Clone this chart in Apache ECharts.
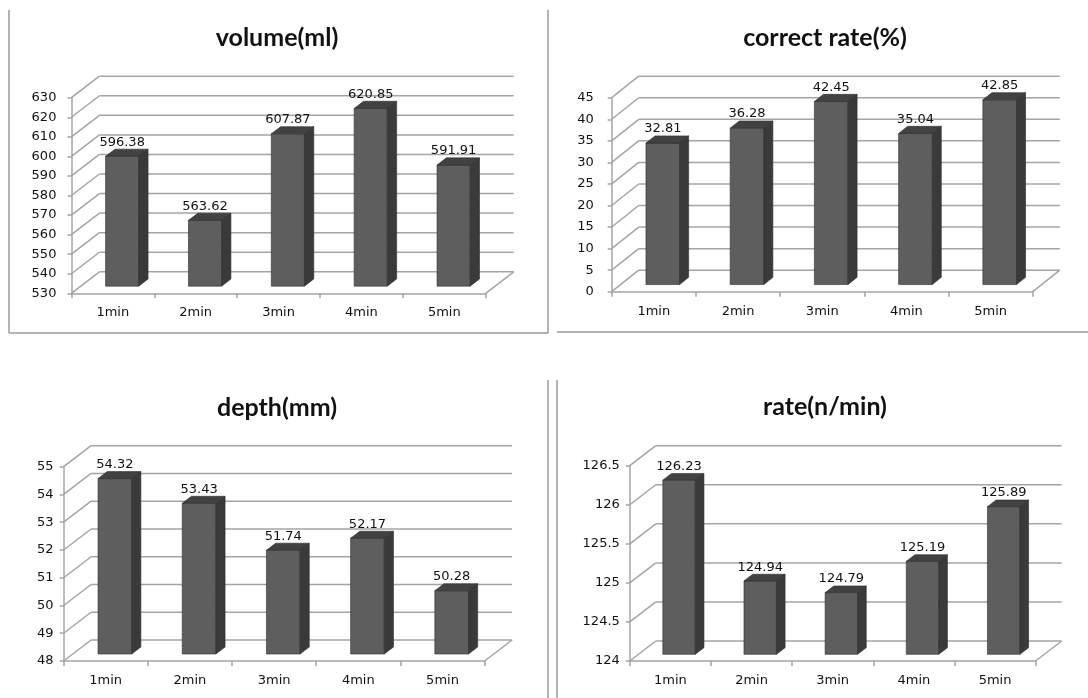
<!DOCTYPE html>
<html>
<head>
<meta charset="utf-8">
<title>CPR quality by minute</title>
<script src="https://cdn.jsdelivr.net/npm/echarts@6/dist/echarts.min.js"></script>
<style>
  html, body { margin: 0; padding: 0; background: #ffffff; }
  #chart { width: 1088px; height: 698px; }
</style>
</head>
<body>
<div id="chart"></div>
<script>
// ---- data ----
const categories = ['1min', '2min', '3min', '4min', '5min'];

const volumeValues = [596.38, 563.62, 607.87, 620.85, 591.91];
const volumeTicks = [530, 540, 550, 560, 570, 580, 590, 600, 610, 620, 630];

const correctRateValues = [32.81, 36.28, 42.45, 35.04, 42.85];
const correctRateTicks = [0, 5, 10, 15, 20, 25, 30, 35, 40, 45];

const depthValues = [54.32, 53.43, 51.74, 52.17, 50.28];
const depthTicks = [48, 49, 50, 51, 52, 53, 54, 55];

const rateValues = [126.23, 124.94, 124.79, 125.19, 125.89];
const rateTicks = [124, 124.5, 125, 125.5, 126, 126.5];

const titles = ['volume(ml)', 'correct rate(%)', 'depth(mm)', 'rate(n/min)'];

// ---- layout: one pseudo-3D column panel per quadrant ----
const panels = [
  { title: titles[0], values: volumeValues, ticks: volumeTicks,
    grid: { left: 71.4, top: 97.7, width: 414.3, height: 195.6 },
    depth: [28, -21.5], titleAt: [277, 38], yMargin: 15 },
  { title: titles[1], values: correctRateValues, ticks: correctRateTicks,
    grid: { left: 611.7, top: 97.7, width: 421.1, height: 194 },
    depth: [27, -21.5], titleAt: [825, 38], yMargin: 18 },
  { title: titles[2], values: depthValues, ticks: depthTicks,
    grid: { left: 63.6, top: 466.7, width: 421, height: 194.3 },
    depth: [27.5, -21], titleAt: [277, 408], yMargin: 10 },
  { title: titles[3], values: rateValues, ticks: rateTicks,
    grid: { left: 629.8, top: 465.7, width: 405.8, height: 195.3 },
    depth: [26, -20], titleAt: [825, 407], yMargin: 10 }
];

const LABEL_FONT = '"DejaVu Sans", "Liberation Sans", sans-serif';
const LABEL_SIZE = 13;
const TEXT_COLOR = '#111111';
const WALL_COLOR = '#a4a4a4';
const FRONT_COLOR = '#5e5e5e';
const TOP_COLOR = '#424242';
const SIDE_COLOR = '#3a3a3a';
const EDGE_COLOR = '#2e2e2e';

// back wall gridlines, the left-wall diagonals and the floor edge
function wallRenderer(panel) {
  const [dx, dy] = panel.depth;
  const floorValue = panel.ticks[0];
  return function (params, api) {
    const cs = params.coordSys;
    const v = api.value(1);
    const y = api.coord([0, v])[1];
    const x0 = cs.x, x1 = cs.x + cs.width;
    const style = { stroke: WALL_COLOR, lineWidth: 1.5 };
    const children = [
      { type: 'line', shape: { x1: x0, y1: y, x2: x0 + dx, y2: y + dy }, style },
      { type: 'line', shape: { x1: x0 + dx, y1: y + dy, x2: x1 + dx, y2: y + dy }, style }
    ];
    if (v === floorValue) {
      children.push({ type: 'line', shape: { x1: x1, y1: y, x2: x1 + dx, y2: y + dy }, style });
    }
    return { type: 'group', children };
  };
}

// a shaded box for each column plus its value label
function barRenderer(panel) {
  const [dx, dy] = panel.depth;
  const minV = panel.ticks[0];
  const ox = dx / 3, oy = dy / 3;     // front face sits a third of the way back
  const bdx = dx / 3, bdy = dy / 3;   // column depth
  return function (params, api) {
    const i = api.value(0);
    const v = api.value(1);
    const top = api.coord([i, v]);
    const base = api.coord([i, minV]);
    const band = api.size([1, 0])[0];
    const w = band * 0.4;
    const xl = top[0] - w / 2 + ox;
    const xr = xl + w;
    const yt = top[1] + oy;
    const yb = base[1] + oy;
    const edge = { stroke: EDGE_COLOR, lineWidth: 0.6 };
    return {
      type: 'group',
      children: [
        { type: 'rect', shape: { x: xl, y: yt, width: w, height: yb - yt },
          style: Object.assign({ fill: FRONT_COLOR }, edge) },
        { type: 'polygon', shape: { points: [[xl, yt], [xr, yt], [xr + bdx, yt + bdy], [xl + bdx, yt + bdy]] },
          style: Object.assign({ fill: TOP_COLOR }, edge) },
        { type: 'polygon', shape: { points: [[xr, yt], [xr + bdx, yt + bdy], [xr + bdx, yb + bdy], [xr, yb]] },
          style: Object.assign({ fill: SIDE_COLOR }, edge) },
        { type: 'text', x: (xl + xr) / 2, y: yt + bdy - 7,
          style: { text: v.toFixed(2), align: 'center', verticalAlign: 'middle',
                   fontSize: LABEL_SIZE, fontFamily: LABEL_FONT, fill: TEXT_COLOR } }
      ]
    };
  };
}

const grid = [], xAxis = [], yAxis = [], series = [], graphic = [];

panels.forEach((p, k) => {
  grid.push(Object.assign({ containLabel: false }, p.grid));
  xAxis.push({
    type: 'category', gridIndex: k, data: categories, boundaryGap: true,
    axisLine: { show: true, lineStyle: { color: WALL_COLOR, width: 1.5 } },
    axisTick: { show: true, interval: 0, length: 5, lineStyle: { color: WALL_COLOR, width: 1.5 } },
    axisLabel: { margin: 13, fontSize: LABEL_SIZE, fontFamily: LABEL_FONT, color: TEXT_COLOR, interval: 0 },
    splitLine: { show: false }
  });
  yAxis.push({
    type: 'value', gridIndex: k,
    min: p.ticks[0], max: p.ticks[p.ticks.length - 1], interval: p.ticks[1] - p.ticks[0],
    axisLine: { show: true, lineStyle: { color: WALL_COLOR, width: 1.5 } },
    axisTick: { show: true, length: 4, lineStyle: { color: WALL_COLOR, width: 1.5 } },
    axisLabel: { margin: p.yMargin, fontSize: LABEL_SIZE, fontFamily: LABEL_FONT, color: TEXT_COLOR },
    splitLine: { show: false }
  });
  series.push({
    type: 'custom', xAxisIndex: k, yAxisIndex: k, z: 1, silent: true,
    renderItem: wallRenderer(p),
    data: p.ticks.map(t => [categories[0], t])
  });
  series.push({
    type: 'custom', xAxisIndex: k, yAxisIndex: k, z: 3, silent: true,
    renderItem: barRenderer(p),
    data: p.values.map((v, i) => [i, v])
  });
  graphic.push({
    type: 'text', x: p.titleAt[0], y: p.titleAt[1], silent: true,
    style: { text: p.title, align: 'center', verticalAlign: 'middle',
             font: 'bold 25px Lato, "Open Sans", sans-serif', fill: '#111111' }
  });
});

// panel frames
const frame = { stroke: '#9a9a9a', lineWidth: 1.5 };
[
  [9, 10, 9, 333],
  [9, 333, 548, 333],
  [548, 10, 548, 333],
  [557, 332, 1088, 332],
  [548, 380, 548, 698],
  [557, 380, 557, 698]
].forEach(s => graphic.push({
  type: 'line', silent: true,
  shape: { x1: s[0], y1: s[1], x2: s[2], y2: s[3] }, style: frame
}));

const chart = echarts.init(document.getElementById('chart'), null, { renderer: 'canvas' });
chart.setOption({
  animation: false,
  backgroundColor: '#ffffff',
  grid, xAxis, yAxis, series, graphic
});
</script>
</body>
</html>
